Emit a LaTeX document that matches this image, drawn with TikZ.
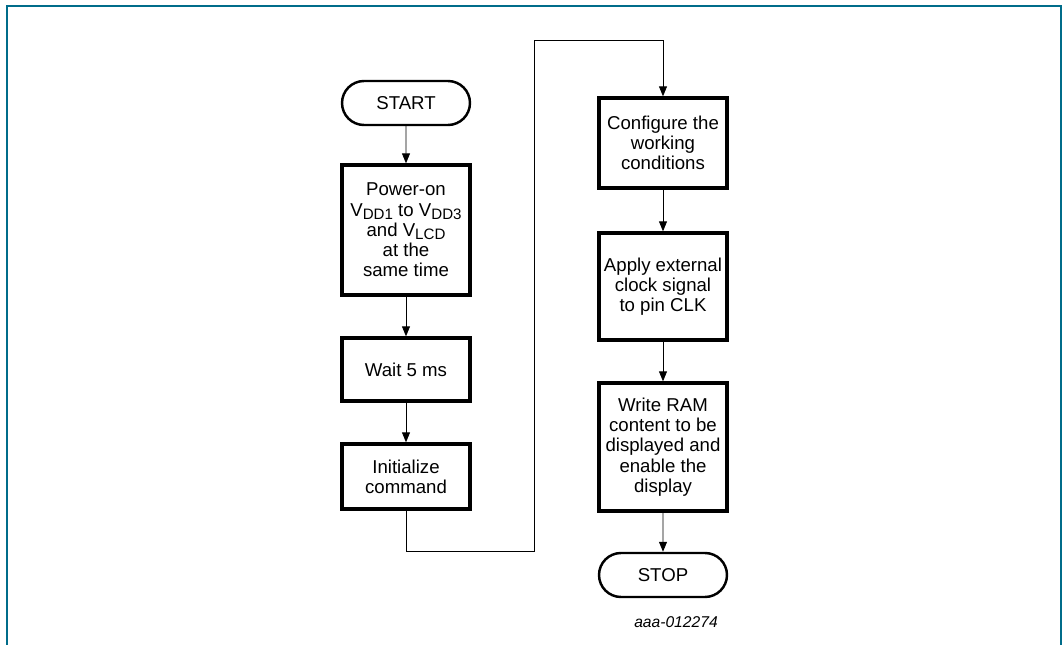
\documentclass[tikz,border=0pt]{standalone}
\usepackage{fontspec}
\setmainfont{Liberation Sans}
\usetikzlibrary{shapes.misc,arrows.meta,positioning}
\definecolor{frameteal}{RGB}{0,108,138}
\newcommand{\lowsub}[1]{\raisebox{-0.3ex}{\fontsize{8.6}{8.6}\selectfont #1}}

\begin{document}
\begin{tikzpicture}[x=0.02cm,y=-0.02cm,
  step box/.style={draw=black,line width=1.9pt,rectangle,minimum width=2.56cm,
                   inner sep=0pt,align=center,font=\fontsize{10.6}{11.5}\selectfont},
  terminal/.style={draw=black,line width=1.4pt,rounded rectangle,minimum width=2.56cm,
                   minimum height=0.88cm,inner sep=0pt,font=\fontsize{10.6}{11.5}\selectfont},
  arr/.style={-{Triangle[length=0.2cm,width=0.16cm]},line width=0.5pt},
  tag/.style={font=\fontsize{8.9}{10}\selectfont\itshape}
]
  \useasboundingbox (0,0) rectangle (1063,645);
  % open frame round the figure
  \draw[frameteal,line width=1.1pt] (7,645) -- (7,6) -- (1061,6) -- (1061,645);

  % left column
  \node[terminal] (start) at (406,103) {START};
  \node[step box,minimum height=2.6cm] (poweron) at (406,230)
    {Power-on\\V\lowsub{DD1} to V\lowsub{DD3}\\and V\lowsub{LCD}\\at the\\same time};
  \node[step box,minimum height=1.26cm] (wait) at (406,369.5) {Wait 5 ms};
  \node[step box,minimum height=1.3cm] (init) at (406,476.5) {Initialize\\command};

  % right column
  \node[step box,minimum height=1.8cm] (config) at (663,143) {Configure the\\working\\conditions};
  \node[step box,minimum height=2.14cm] (clock) at (663,286.5) {Apply external\\clock signal\\to pin CLK};
  \node[step box,minimum height=2.56cm] (writeram) at (663,447)
    {Write RAM\\content to be\\displayed and\\enable the\\display};
  \node[terminal] (stop) at (663,575) {STOP};

  \node[tag] (figid) at (676,622) {aaa-012274};

  % connectors
  \draw[arr] (start) -- (poweron);
  \draw[arr] (poweron) -- (wait);
  \draw[arr] (wait) -- (init);
  \draw[arr] (init.south) |- (534,551) -- (534,40) -| (config.north);
  \draw[arr] (config) -- (clock);
  \draw[arr] (clock) -- (writeram);
  \draw[arr] (writeram) -- (stop);
\end{tikzpicture}
\end{document}
